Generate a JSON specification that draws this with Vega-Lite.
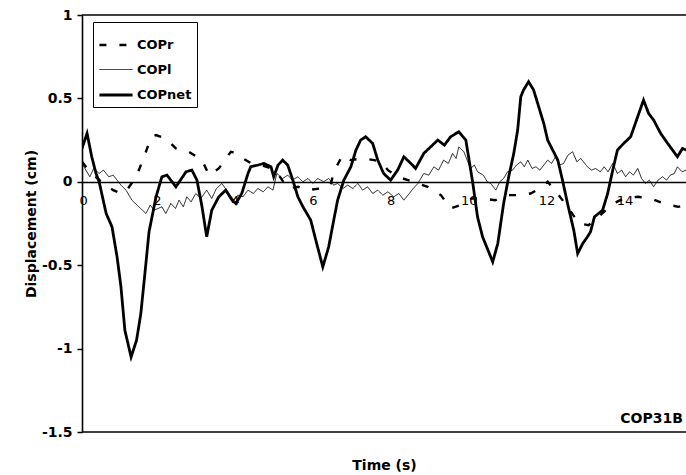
{
  "$schema": "https://vega.github.io/schema/vega-lite/v6.json",
  "width": 604,
  "height": 417,
  "autosize": {"type": "none"},
  "padding": {"left": 82, "top": 15, "right": 0, "bottom": 43},
  "background": "white",
  "config": {
    "view": {"stroke": null},
    "font": "DejaVu Sans",
    "axis": {"labelFont": "DejaVu Sans", "titleFont": "DejaVu Sans", "labelColor": "black", "titleColor": "black", "domainColor": "black", "tickColor": "black"}
  },
  "layer": [
    {
      "data": {"values": [{}]},
      "mark": {"type": "rule", "stroke": "black", "strokeWidth": 1.5},
      "encoding": {"y": {"datum": 1, "type": "quantitative", "scale": {"domain": [-1.5, 1]}}}
    },
    {
      "data": {"values": [{}]},
      "mark": {"type": "rule", "stroke": "black", "strokeWidth": 1.5},
      "encoding": {"y": {"datum": -1.5, "type": "quantitative"}}
    },
    {
      "data": {
        "values": [
          {"s":"COPr","t":0,"v":0.12},{"s":"COPr","t":0.2,"v":0.06},{"s":"COPr","t":0.4,"v":0.02},{"s":"COPr","t":0.6,"v":-0.02},{"s":"COPr","t":0.8,"v":-0.05},{"s":"COPr","t":1.0,"v":-0.07},{"s":"COPr","t":1.15,"v":-0.05},{"s":"COPr","t":1.3,"v":0.0},{"s":"COPr","t":1.46,"v":0.07},{"s":"COPr","t":1.64,"v":0.18},{"s":"COPr","t":1.78,"v":0.27},{"s":"COPr","t":1.9,"v":0.28},{"s":"COPr","t":2.15,"v":0.26},{"s":"COPr","t":2.41,"v":0.2},{"s":"COPr","t":2.74,"v":0.18},{"s":"COPr","t":3.08,"v":0.13},{"s":"COPr","t":3.26,"v":0.04},{"s":"COPr","t":3.51,"v":0.08},{"s":"COPr","t":3.82,"v":0.18},{"s":"COPr","t":4.0,"v":0.17},{"s":"COPr","t":4.13,"v":0.14},{"s":"COPr","t":4.35,"v":0.11},{"s":"COPr","t":4.6,"v":0.1},{"s":"COPr","t":4.85,"v":0.08},{"s":"COPr","t":5.05,"v":0.04},{"s":"COPr","t":5.28,"v":-0.04},{"s":"COPr","t":5.55,"v":-0.03},{"s":"COPr","t":5.79,"v":-0.05},{"s":"COPr","t":6.1,"v":-0.04},{"s":"COPr","t":6.38,"v":-0.02},{"s":"COPr","t":6.46,"v":0.06},{"s":"COPr","t":6.69,"v":0.16},{"s":"COPr","t":6.9,"v":0.13},{"s":"COPr","t":7.2,"v":0.14},{"s":"COPr","t":7.5,"v":0.13},{"s":"COPr","t":7.67,"v":0.12},{"s":"COPr","t":7.85,"v":0.07},{"s":"COPr","t":8.1,"v":0.03},{"s":"COPr","t":8.5,"v":0.0},{"s":"COPr","t":8.87,"v":-0.03},{"s":"COPr","t":9.21,"v":-0.08},{"s":"COPr","t":9.46,"v":-0.16},{"s":"COPr","t":9.7,"v":-0.14},{"s":"COPr","t":10.0,"v":-0.1},{"s":"COPr","t":10.28,"v":-0.1},{"s":"COPr","t":10.6,"v":-0.11},{"s":"COPr","t":10.95,"v":-0.08},{"s":"COPr","t":11.26,"v":-0.08},{"s":"COPr","t":11.51,"v":-0.07},{"s":"COPr","t":11.75,"v":-0.04},{"s":"COPr","t":11.95,"v":0.0},{"s":"COPr","t":12.2,"v":-0.07},{"s":"COPr","t":12.46,"v":-0.15},{"s":"COPr","t":12.75,"v":-0.25},{"s":"COPr","t":13.0,"v":-0.26},{"s":"COPr","t":13.3,"v":-0.2},{"s":"COPr","t":13.64,"v":-0.13},{"s":"COPr","t":13.9,"v":-0.1},{"s":"COPr","t":14.26,"v":-0.09},{"s":"COPr","t":14.6,"v":-0.1},{"s":"COPr","t":14.92,"v":-0.13},{"s":"COPr","t":15.3,"v":-0.15},{"s":"COPr","t":15.5,"v":-0.14},
          {"s":"COPl","t":0,"v":0.11},{"s":"COPl","t":0.1,"v":0.07},{"s":"COPl","t":0.2,"v":0.03},{"s":"COPl","t":0.3,"v":0.08},{"s":"COPl","t":0.44,"v":0.05},{"s":"COPl","t":0.55,"v":0.07},{"s":"COPl","t":0.69,"v":0.03},{"s":"COPl","t":0.8,"v":0.04},{"s":"COPl","t":0.9,"v":0.01},{"s":"COPl","t":1.0,"v":-0.02},{"s":"COPl","t":1.13,"v":-0.05},{"s":"COPl","t":1.28,"v":-0.11},{"s":"COPl","t":1.46,"v":-0.15},{"s":"COPl","t":1.64,"v":-0.19},{"s":"COPl","t":1.75,"v":-0.14},{"s":"COPl","t":1.85,"v":-0.17},{"s":"COPl","t":2.05,"v":-0.15},{"s":"COPl","t":2.15,"v":-0.19},{"s":"COPl","t":2.28,"v":-0.13},{"s":"COPl","t":2.4,"v":-0.16},{"s":"COPl","t":2.49,"v":-0.11},{"s":"COPl","t":2.6,"v":-0.15},{"s":"COPl","t":2.69,"v":-0.09},{"s":"COPl","t":2.8,"v":-0.12},{"s":"COPl","t":2.92,"v":-0.07},{"s":"COPl","t":3.05,"v":-0.1},{"s":"COPl","t":3.2,"v":-0.05},{"s":"COPl","t":3.33,"v":-0.1},{"s":"COPl","t":3.45,"v":-0.04},{"s":"COPl","t":3.59,"v":-0.01},{"s":"COPl","t":3.77,"v":-0.07},{"s":"COPl","t":3.9,"v":-0.11},{"s":"COPl","t":4.0,"v":-0.08},{"s":"COPl","t":4.13,"v":-0.09},{"s":"COPl","t":4.26,"v":-0.05},{"s":"COPl","t":4.4,"v":-0.07},{"s":"COPl","t":4.51,"v":-0.04},{"s":"COPl","t":4.65,"v":-0.06},{"s":"COPl","t":4.77,"v":-0.03},{"s":"COPl","t":4.9,"v":-0.05},{"s":"COPl","t":5.0,"v":0.05},{"s":"COPl","t":5.15,"v":0.02},{"s":"COPl","t":5.28,"v":0.04},{"s":"COPl","t":5.4,"v":0.01},{"s":"COPl","t":5.54,"v":0.03},{"s":"COPl","t":5.67,"v":0.0},{"s":"COPl","t":5.8,"v":0.02},{"s":"COPl","t":5.92,"v":-0.01},{"s":"COPl","t":6.05,"v":0.02},{"s":"COPl","t":6.2,"v":0.0},{"s":"COPl","t":6.33,"v":0.02},{"s":"COPl","t":6.46,"v":-0.02},{"s":"COPl","t":6.56,"v":-0.01},{"s":"COPl","t":6.7,"v":-0.04},{"s":"COPl","t":6.82,"v":-0.02},{"s":"COPl","t":6.95,"v":-0.04},{"s":"COPl","t":7.08,"v":-0.01},{"s":"COPl","t":7.2,"v":-0.05},{"s":"COPl","t":7.33,"v":-0.03},{"s":"COPl","t":7.46,"v":-0.07},{"s":"COPl","t":7.59,"v":-0.05},{"s":"COPl","t":7.72,"v":-0.08},{"s":"COPl","t":7.85,"v":-0.06},{"s":"COPl","t":8.0,"v":-0.09},{"s":"COPl","t":8.13,"v":-0.07},{"s":"COPl","t":8.26,"v":-0.11},{"s":"COPl","t":8.4,"v":-0.07},{"s":"COPl","t":8.5,"v":-0.04},{"s":"COPl","t":8.62,"v":-0.01},{"s":"COPl","t":8.77,"v":0.05},{"s":"COPl","t":8.9,"v":0.04},{"s":"COPl","t":9.03,"v":0.09},{"s":"COPl","t":9.15,"v":0.07},{"s":"COPl","t":9.28,"v":0.13},{"s":"COPl","t":9.4,"v":0.11},{"s":"COPl","t":9.51,"v":0.17},{"s":"COPl","t":9.6,"v":0.14},{"s":"COPl","t":9.67,"v":0.21},{"s":"COPl","t":9.8,"v":0.18},{"s":"COPl","t":9.9,"v":0.12},{"s":"COPl","t":9.97,"v":0.08},{"s":"COPl","t":10.07,"v":0.1},{"s":"COPl","t":10.15,"v":0.06},{"s":"COPl","t":10.3,"v":0.04},{"s":"COPl","t":10.4,"v":0.0},{"s":"COPl","t":10.49,"v":-0.01},{"s":"COPl","t":10.62,"v":-0.05},{"s":"COPl","t":10.72,"v":0.0},{"s":"COPl","t":10.82,"v":0.02},{"s":"COPl","t":10.92,"v":0.06},{"s":"COPl","t":11.05,"v":0.07},{"s":"COPl","t":11.15,"v":0.1},{"s":"COPl","t":11.26,"v":0.12},{"s":"COPl","t":11.35,"v":0.09},{"s":"COPl","t":11.44,"v":0.13},{"s":"COPl","t":11.55,"v":0.08},{"s":"COPl","t":11.65,"v":0.09},{"s":"COPl","t":11.75,"v":0.07},{"s":"COPl","t":11.85,"v":0.1},{"s":"COPl","t":11.95,"v":0.13},{"s":"COPl","t":12.05,"v":0.11},{"s":"COPl","t":12.15,"v":0.15},{"s":"COPl","t":12.25,"v":0.1},{"s":"COPl","t":12.36,"v":0.11},{"s":"COPl","t":12.47,"v":0.16},{"s":"COPl","t":12.59,"v":0.18},{"s":"COPl","t":12.7,"v":0.12},{"s":"COPl","t":12.8,"v":0.14},{"s":"COPl","t":12.97,"v":0.09},{"s":"COPl","t":13.08,"v":0.07},{"s":"COPl","t":13.18,"v":0.08},{"s":"COPl","t":13.3,"v":0.06},{"s":"COPl","t":13.4,"v":0.09},{"s":"COPl","t":13.5,"v":0.06},{"s":"COPl","t":13.62,"v":0.11},{"s":"COPl","t":13.74,"v":0.05},{"s":"COPl","t":13.85,"v":0.07},{"s":"COPl","t":13.95,"v":0.03},{"s":"COPl","t":14.05,"v":0.06},{"s":"COPl","t":14.15,"v":0.04},{"s":"COPl","t":14.26,"v":0.08},{"s":"COPl","t":14.36,"v":0.02},{"s":"COPl","t":14.46,"v":-0.01},{"s":"COPl","t":14.56,"v":0.01},{"s":"COPl","t":14.67,"v":-0.03},{"s":"COPl","t":14.78,"v":0.01},{"s":"COPl","t":14.9,"v":0.03},{"s":"COPl","t":15.0,"v":0.01},{"s":"COPl","t":15.1,"v":0.04},{"s":"COPl","t":15.2,"v":0.05},{"s":"COPl","t":15.28,"v":0.09},{"s":"COPl","t":15.4,"v":0.06},{"s":"COPl","t":15.5,"v":0.07},
          {"s":"COPnet","t":0,"v":0.2},{"s":"COPnet","t":0.13,"v":0.29},{"s":"COPnet","t":0.25,"v":0.15},{"s":"COPnet","t":0.36,"v":0.05},{"s":"COPnet","t":0.44,"v":0},{"s":"COPnet","t":0.62,"v":-0.19},{"s":"COPnet","t":0.77,"v":-0.27},{"s":"COPnet","t":0.9,"v":-0.45},{"s":"COPnet","t":1.0,"v":-0.63},{"s":"COPnet","t":1.1,"v":-0.89},{"s":"COPnet","t":1.26,"v":-1.05},{"s":"COPnet","t":1.4,"v":-0.95},{"s":"COPnet","t":1.51,"v":-0.79},{"s":"COPnet","t":1.64,"v":-0.49},{"s":"COPnet","t":1.72,"v":-0.3},{"s":"COPnet","t":1.9,"v":-0.09},{"s":"COPnet","t":2.05,"v":0.03},{"s":"COPnet","t":2.18,"v":0.04},{"s":"COPnet","t":2.41,"v":-0.03},{"s":"COPnet","t":2.67,"v":0.06},{"s":"COPnet","t":2.82,"v":0.07},{"s":"COPnet","t":2.95,"v":0.01},{"s":"COPnet","t":3.08,"v":-0.15},{"s":"COPnet","t":3.2,"v":-0.33},{"s":"COPnet","t":3.33,"v":-0.17},{"s":"COPnet","t":3.51,"v":-0.09},{"s":"COPnet","t":3.69,"v":-0.05},{"s":"COPnet","t":3.85,"v":-0.11},{"s":"COPnet","t":3.95,"v":-0.13},{"s":"COPnet","t":4.1,"v":-0.07},{"s":"COPnet","t":4.26,"v":0.05},{"s":"COPnet","t":4.33,"v":0.09},{"s":"COPnet","t":4.51,"v":0.1},{"s":"COPnet","t":4.67,"v":0.11},{"s":"COPnet","t":4.85,"v":0.09},{"s":"COPnet","t":4.92,"v":0.03},{"s":"COPnet","t":5.03,"v":0.1},{"s":"COPnet","t":5.15,"v":0.13},{"s":"COPnet","t":5.28,"v":0.1},{"s":"COPnet","t":5.41,"v":0.01},{"s":"COPnet","t":5.54,"v":-0.09},{"s":"COPnet","t":5.67,"v":-0.15},{"s":"COPnet","t":5.87,"v":-0.23},{"s":"COPnet","t":6.0,"v":-0.35},{"s":"COPnet","t":6.18,"v":-0.51},{"s":"COPnet","t":6.33,"v":-0.39},{"s":"COPnet","t":6.46,"v":-0.23},{"s":"COPnet","t":6.56,"v":-0.11},{"s":"COPnet","t":6.72,"v":0.01},{"s":"COPnet","t":6.9,"v":0.09},{"s":"COPnet","t":7.03,"v":0.19},{"s":"COPnet","t":7.15,"v":0.25},{"s":"COPnet","t":7.28,"v":0.27},{"s":"COPnet","t":7.46,"v":0.23},{"s":"COPnet","t":7.59,"v":0.13},{"s":"COPnet","t":7.74,"v":0.05},{"s":"COPnet","t":7.92,"v":0.01},{"s":"COPnet","t":8.1,"v":0.07},{"s":"COPnet","t":8.26,"v":0.15},{"s":"COPnet","t":8.44,"v":0.11},{"s":"COPnet","t":8.56,"v":0.08},{"s":"COPnet","t":8.77,"v":0.17},{"s":"COPnet","t":8.95,"v":0.21},{"s":"COPnet","t":9.13,"v":0.25},{"s":"COPnet","t":9.3,"v":0.22},{"s":"COPnet","t":9.46,"v":0.27},{"s":"COPnet","t":9.67,"v":0.3},{"s":"COPnet","t":9.85,"v":0.25},{"s":"COPnet","t":9.92,"v":0.15},{"s":"COPnet","t":10.03,"v":-0.01},{"s":"COPnet","t":10.15,"v":-0.21},{"s":"COPnet","t":10.28,"v":-0.33},{"s":"COPnet","t":10.54,"v":-0.48},{"s":"COPnet","t":10.67,"v":-0.37},{"s":"COPnet","t":10.82,"v":-0.13},{"s":"COPnet","t":10.95,"v":0.03},{"s":"COPnet","t":11.08,"v":0.17},{"s":"COPnet","t":11.18,"v":0.31},{"s":"COPnet","t":11.26,"v":0.51},{"s":"COPnet","t":11.33,"v":0.55},{"s":"COPnet","t":11.46,"v":0.6},{"s":"COPnet","t":11.59,"v":0.55},{"s":"COPnet","t":11.72,"v":0.45},{"s":"COPnet","t":11.85,"v":0.35},{"s":"COPnet","t":11.95,"v":0.25},{"s":"COPnet","t":12.08,"v":0.19},{"s":"COPnet","t":12.21,"v":0.13},{"s":"COPnet","t":12.33,"v":0.01},{"s":"COPnet","t":12.46,"v":-0.13},{"s":"COPnet","t":12.62,"v":-0.29},{"s":"COPnet","t":12.72,"v":-0.43},{"s":"COPnet","t":12.85,"v":-0.37},{"s":"COPnet","t":12.97,"v":-0.33},{"s":"COPnet","t":13.05,"v":-0.3},{"s":"COPnet","t":13.15,"v":-0.21},{"s":"COPnet","t":13.36,"v":-0.17},{"s":"COPnet","t":13.49,"v":-0.07},{"s":"COPnet","t":13.62,"v":0.07},{"s":"COPnet","t":13.74,"v":0.19},{"s":"COPnet","t":13.9,"v":0.23},{"s":"COPnet","t":14.08,"v":0.27},{"s":"COPnet","t":14.26,"v":0.39},{"s":"COPnet","t":14.41,"v":0.49},{"s":"COPnet","t":14.54,"v":0.41},{"s":"COPnet","t":14.67,"v":0.37},{"s":"COPnet","t":14.85,"v":0.29},{"s":"COPnet","t":15.03,"v":0.23},{"s":"COPnet","t":15.28,"v":0.15},{"s":"COPnet","t":15.41,"v":0.2},{"s":"COPnet","t":15.51,"v":0.19}
        ]
      },
      "mark": {"type": "line", "stroke": "black", "clip": true},
      "encoding": {
        "x": {
          "field": "t", "type": "quantitative",
          "scale": {"domain": [0, 15.5], "nice": false},
          "axis": {
            "orient": "bottom", "offset": -250, "values": [0,2,4,6,8,10,12,14],
            "ticks": false, "grid": false, "domainWidth": 1.6,
            "labelFontSize": 13, "labelPadding": 12, "labelOffset": -3,
            "title": "Time (s)", "titleFontSize": 14, "titleFontWeight": "bold",
            "titleY": 283, "titleBaseline": "middle"
          }
        },
        "y": {
          "field": "v", "type": "quantitative",
          "scale": {"domain": [-1.5, 1], "nice": false},
          "axis": {
            "values": [-1.5,-1,-0.5,0,0.5,1], "labelExpr": "datum.value",
            "grid": false, "tickSize": 5, "domainWidth": 1.6, "tickWidth": 1.5,
            "labelFontSize": 14, "labelFontWeight": "bold", "labelPadding": 5,
            "title": "Displacement (cm)", "titleFontSize": 14, "titleFontWeight": "bold",
            "titlePadding": 3
          }
        },
        "detail": {"field": "s"},
        "strokeDash": {
          "field": "s", "type": "nominal",
          "scale": {"domain": ["COPr","COPl","COPnet"], "range": [[7,13],[1,0],[1,0]]},
          "legend": {
            "title": null, "orient": "none", "legendX": 11, "legendY": 7,
            "strokeColor": "black", "padding": 5, "symbolType": "stroke", "symbolSize": 1100,
            "symbolStrokeColor": "black", "labelFont": "DejaVu Sans", "labelFontSize": 13,
            "labelFontWeight": "bold", "labelColor": "black", "labelOffset": 3, "rowPadding": -3,
            "labelExpr": "datum.label + '  '"
          }
        },
        "strokeWidth": {
          "field": "s", "type": "nominal",
          "scale": {"type": "ordinal", "domain": ["COPr","COPl","COPnet"], "range": [2.4, 0.9, 2.8]},
          "legend": {
            "title": null, "orient": "none", "legendX": 11, "legendY": 7,
            "strokeColor": "black", "padding": 5, "symbolType": "stroke", "symbolSize": 1100,
            "symbolStrokeColor": "black", "labelFont": "DejaVu Sans", "labelFontSize": 13,
            "labelFontWeight": "bold", "labelColor": "black", "labelOffset": 3, "rowPadding": -3,
            "labelExpr": "datum.label + '  '"
          }
        }
      }
    },
    {
      "data": {"values": [{"label": "COP31B"}]},
      "mark": {"type": "text", "align": "right", "baseline": "middle", "font": "DejaVu Sans", "fontSize": 14, "fontWeight": "bold", "color": "black"},
      "encoding": {
        "x": {"datum": 15.42, "type": "quantitative"},
        "y": {"datum": -1.42, "type": "quantitative"},
        "text": {"field": "label"}
      }
    }
  ]
}
